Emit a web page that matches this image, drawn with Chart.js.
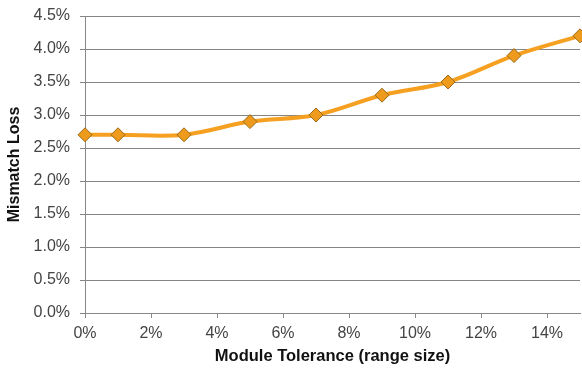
<!DOCTYPE html>
<html>
<head>
<meta charset="utf-8">
<script src="https://cdn.jsdelivr.net/npm/chart.js@4/dist/chart.umd.min.js"></script>
<style>
  html, body { margin: 0; padding: 0; background: #fff; }
  #wrap { width: 582px; height: 370px; }
</style>
</head>
<body>
<div id="wrap"><canvas id="myChart" width="582" height="370"></canvas></div>
<script>
// module tolerance (%) and mismatch loss (%)
const tolerance = [0, 1, 3, 5, 7, 9, 11, 13, 15];
const mismatchLoss = [2.7, 2.7, 2.7, 2.9, 3.0, 3.3, 3.5, 3.9, 4.2];
const xTicks = [0, 2, 4, 6, 8, 10, 12, 14];
const yTicks = [0, 0.5, 1.0, 1.5, 2.0, 2.5, 3.0, 3.5, 4.0, 4.5];

const ctx = document.getElementById('myChart').getContext('2d');
const points = tolerance.map((x, i) => ({ x, y: mismatchLoss[i] }));

new Chart(ctx, {
  type: 'line',
  data: {
    datasets: [{
      label: 'Mismatch Loss',
      data: points,
      borderColor: '#F5A020',
      borderWidth: 4,
      tension: 0.35,
      pointStyle: 'rectRot',
      pointRadius: 7,
      pointBackgroundColor: '#EE9A1C',
      pointBorderColor: '#9A6A18',
      pointBorderWidth: 1,
      fill: false,
      clip: false
    }]
  },
  options: {
    responsive: false,
    animation: false,
    layout: { autoPadding: false, padding: { top: 16, right: 2, left: 0, bottom: 0 } },
    plugins: { legend: { display: false }, tooltip: { enabled: false } },
    scales: {
      x: {
        type: 'linear',
        min: 0,
        max: 15,
        afterBuildTicks: axis => { axis.ticks = xTicks.map(v => ({ value: v })); },
        afterFit: axis => {
          axis.height = 57;
          axis.paddingLeft = 0;
          axis.paddingRight = 0;
        },
        grid: { drawOnChartArea: false, drawTicks: true, tickLength: 5, color: '#888' },
        border: { color: '#888', width: 1 },
        ticks: {
          padding: 6,
          color: '#444',
          font: { family: 'Liberation Sans, Arial', size: 16 },
          callback: v => v + '%'
        },
        title: {
          display: true,
          text: 'Module Tolerance (range size)',
          color: '#111',
          font: { family: 'Liberation Sans, Arial', size: 16.5, weight: 'bold' },
          padding: { top: 0, bottom: 4 }
        }
      },
      y: {
        min: 0,
        max: 4.5,
        afterBuildTicks: axis => { axis.ticks = yTicks.map(v => ({ value: v })); },
        afterFit: axis => {
          axis.width = 85;
          axis.paddingTop = 0;
          axis.paddingBottom = 0;
        },
        grid: { color: '#858585', tickLength: 5, lineWidth: 1 },
        border: { color: '#888', width: 1 },
        ticks: {
          padding: 10,
          color: '#444',
          font: { family: 'Liberation Sans, Arial', size: 16 },
          callback: v => v.toFixed(1) + '%'
        },
        title: {
          display: true,
          text: 'Mismatch Loss',
          color: '#111',
          font: { family: 'Liberation Sans, Arial', size: 16, weight: 'bold' },
          padding: { top: 5, bottom: 0 }
        }
      }
    }
  }
});
</script>
</body>
</html>
